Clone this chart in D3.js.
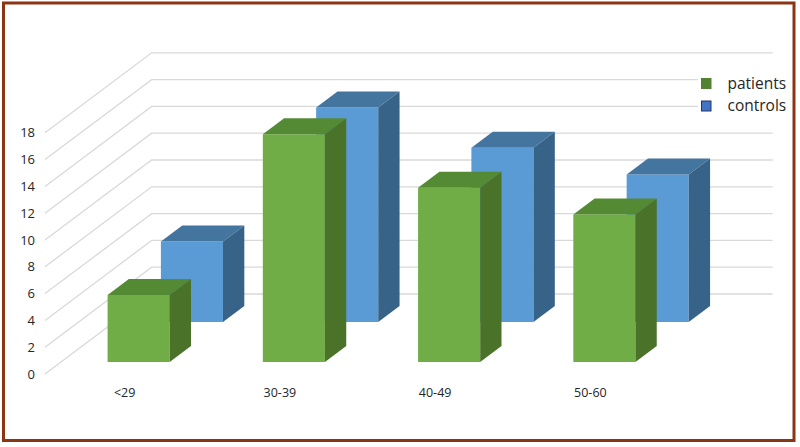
<!DOCTYPE html>
<html>
<head>
<meta charset="utf-8">
<script src="https://cdn.jsdelivr.net/npm/d3@7"></script>
<style>
  html, body { margin: 0; padding: 0; background: #fff; }
  svg { display: block; font-family: "Open Sans", "DejaVu Sans", sans-serif; }
</style>
</head>
<body>
<div id="chart"></div>
<script>
// data
const categories = ["<29", "30-39", "40-49", "50-60"];
const seriesNames = ["patients", "controls"];
const patients = [5, 17, 13, 11];
const controls = [6, 16, 13, 11];
const yTicks = [0, 2, 4, 6, 8, 10, 12, 14, 16, 18];

const width = 800, height = 447;
const svg = d3.select("#chart").append("svg")
  .attr("width", width)
  .attr("height", height);

// oblique projection: depth z goes up and to the right
const cosA = 0.8, sinA = 0.6;
const depth = 133.3;

const x = d3.scaleBand()
  .domain(categories)
  .range([45, 666])
  .paddingInner(0.6)
  .paddingOuter(0.3);

const z = d3.scaleBand()
  .domain(seriesNames)
  .range([0, depth])
  .paddingInner(0.6)
  .paddingOuter(0.3);

const y = d3.scaleLinear()
  .domain([0, 18])
  .range([374, 374 - 18 * 13.4]);

const P = (px, v, pz) => [px + pz * cosA, y(v) - pz * sinA];

const colors = {
  patients: { front: "#70ad47", top: "#548a33", side: "#4a7229", key: "#548235", keyStroke: "#548235" },
  controls: { front: "#5b9bd5", top: "#44759f", side: "#386388", key: "#4472c4", keyStroke: "#1f3864" }
};

// grid: side wall diagonals + back wall lines
const grid = svg.append("g").attr("class", "grid");
const x0 = x.range()[0], x1 = x.range()[1];
grid.selectAll("path")
  .data(yTicks)
  .join("path")
  .attr("d", d => {
    const a = P(x0, d, 0), b = P(x0, d, depth), c = P(x1, d, depth);
    return `M${a}L${b}L${c}`;
  })
  .attr("fill", "none")
  .attr("stroke", "#d9d9d9")
  .attr("stroke-width", 1.3);

// y axis labels
svg.append("g")
  .selectAll("text")
  .data(yTicks)
  .join("text")
  .attr("x", 35)
  .attr("y", d => y(d))
  .attr("dy", "0.35em")
  .attr("text-anchor", "end")
  .attr("font-size", 13)
  .attr("fill", "#262626")
  .text(d => d);

// category labels
svg.append("g")
  .selectAll("text")
  .data(categories)
  .join("text")
  .attr("x", d => x(d) + x.bandwidth() / 2 + 2)
  .attr("y", 393)
  .attr("dy", "0.35em")
  .attr("text-anchor", "middle")
  .attr("font-size", 12.5)
  .attr("fill", "#262626")
  .text(d => d);

// bars, back row first
const seriesData = { patients, controls };
const bars = [];
seriesNames.slice().reverse().forEach(s => {
  seriesData[s].forEach((v, i) => bars.push({ s, cat: categories[i], v }));
});

const barG = svg.append("g").attr("class", "bars")
  .selectAll("g")
  .data(bars)
  .join("g");

function poly(pts) { return "M" + pts.map(p => p.join(",")).join("L") + "Z"; }

barG.append("path") // front
  .attr("d", d => {
    const bx0 = x(d.cat), bx1 = bx0 + x.bandwidth(), bz = z(d.s);
    return poly([P(bx0, 0, bz), P(bx0, d.v, bz), P(bx1, d.v, bz), P(bx1, 0, bz)]);
  })
  .attr("fill", d => colors[d.s].front);

barG.append("path") // top
  .attr("d", d => {
    const bx0 = x(d.cat), bx1 = bx0 + x.bandwidth(), bz0 = z(d.s), bz1 = bz0 + z.bandwidth();
    return poly([P(bx0, d.v, bz0), P(bx1, d.v, bz0), P(bx1, d.v, bz1), P(bx0, d.v, bz1)]);
  })
  .attr("fill", d => colors[d.s].top);

barG.append("path") // side
  .attr("d", d => {
    const bx1 = x(d.cat) + x.bandwidth(), bz0 = z(d.s), bz1 = bz0 + z.bandwidth();
    return poly([P(bx1, 0, bz0), P(bx1, d.v, bz0), P(bx1, d.v, bz1), P(bx1, 0, bz1)]);
  })
  .attr("fill", d => colors[d.s].side);

// legend
const legend = svg.append("g").attr("transform", "translate(698,70)");
legend.append("rect")
  .attr("width", 94).attr("height", 46).attr("fill", "#fff");
const li = legend.selectAll("g")
  .data(seriesNames)
  .join("g")
  .attr("transform", (d, i) => `translate(0,${13.5 + i * 22.5})`);
li.append("rect")
  .attr("x", 3.5).attr("y", -5)
  .attr("width", 9.5).attr("height", 10)
  .attr("fill", d => colors[d].key)
  .attr("stroke", d => colors[d].keyStroke)
  .attr("stroke-width", 1);
li.append("text")
  .attr("x", 29.5).attr("dy", "0.33em")
  .attr("font-size", 15.5)
  .attr("fill", "#262626")
  .text(d => d);

// frame
svg.append("rect")
  .attr("x", 3.5).attr("y", 3)
  .attr("width", 790.5).attr("height", 437.5)
  .attr("fill", "none")
  .attr("stroke", "#8b3515")
  .attr("stroke-width", 3);
</script>
</body>
</html>
